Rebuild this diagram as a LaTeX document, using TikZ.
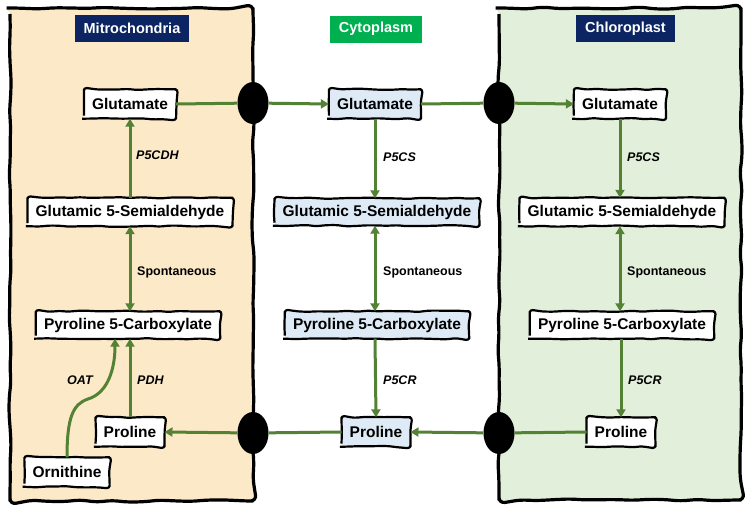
\documentclass[tikz,border=0pt]{standalone}
\usepackage{fontspec}
\setmainfont{Liberation Sans}
\usetikzlibrary{arrows.meta,shapes.geometric,decorations.pathmorphing}
\definecolor{peach}{HTML}{FBE9C8}
\definecolor{leaf}{HTML}{E2EFDA}
\definecolor{pale}{HTML}{DEEBF7}
\definecolor{navy}{HTML}{0C2461}
\definecolor{hdrgreen}{HTML}{00B050}
\definecolor{arrowgreen}{HTML}{548235}
\tikzset{
  compartment/.style={draw=black, line width=3.2pt, line join=round, rounded corners=6pt, decorate, decoration={random steps, segment length=16pt, amplitude=1.1pt}},
  mol/.style={fill=white, font=\bfseries\fontsize{15.5}{18}\selectfont, inner xsep=8pt, inner ysep=0pt, minimum height=29pt},
  molc/.style={mol, fill=pale},
  molborder/.style={draw=black, line width=2.2pt, line join=round, rounded corners=3pt, decorate, decoration={random steps, segment length=10pt, amplitude=0.7pt}},
  hdr/.style={text=white, font=\bfseries\fontsize{14.5}{17}\selectfont, minimum height=27pt, inner xsep=9pt, inner ysep=0pt},
  gate/.style={ellipse, fill=black, minimum width=31pt, minimum height=42pt, inner sep=0pt},
  lnk/.style={draw=arrowgreen, line width=3pt},
  arr/.style={lnk, -{Triangle[length=8pt,width=9pt]}},
  darr/.style={lnk, {Triangle[length=8pt,width=9pt]}-{Triangle[length=8pt,width=9pt]}},
  enz/.style={font=\bfseries\itshape\fontsize{12.5}{15}\selectfont, anchor=west, inner sep=0pt},
  lab/.style={font=\bfseries\fontsize{12.5}{15}\selectfont, anchor=west, inner sep=0pt}
}
\begin{document}
\begin{tikzpicture}[x=1pt,y=1pt]
\pgfmathsetseed{7}
\useasboundingbox (0,-509) rectangle (750,0);
% compartments
\path[compartment, fill=peach] (10,-8) rectangle (253,-501);
\path[compartment, fill=leaf] (499,-8) rectangle (741,-500);
% headers
\node[hdr, fill=navy] (hM) at (132,-28.5) {Mitrochondria};
\node[hdr, fill=hdrgreen] (hC) at (376,-29) {Cytoplasm};
\node[hdr, fill=navy] (hP) at (625.5,-28.5) {Chloroplast};
% mitochondria
\node[mol] (gL) at (130,-104) {Glutamate};
\node[mol, minimum height=28pt] (gsL) at (130,-212) {Glutamic 5-Semialdehyde};
\node[mol, minimum height=27pt] (pyL) at (128,-325) {Pyroline 5-Carboxylate};
\node[mol] (proL) at (130,-432) {Proline};
\node[mol] (orn) at (67,-472) {Ornithine};
% cytoplasm
\node[molc] (gM) at (375,-104) {Glutamate};
\node[molc, minimum height=27pt] (gsM) at (377,-212) {Glutamic 5-Semialdehyde};
\node[molc, minimum height=27pt] (pyM) at (377,-325) {Pyroline 5-Carboxylate};
\node[molc] (proM) at (376,-432) {Proline};
% chloroplast
\node[mol] (gR) at (620,-104) {Glutamate};
\node[mol, minimum height=28pt] (gsR) at (622,-212) {Glutamic 5-Semialdehyde};
\node[mol, minimum height=27pt] (pyR) at (622,-325) {Pyroline 5-Carboxylate};
\node[mol] (proR) at (621,-432) {Proline};
% hand-drawn borders of the molecule boxes
\foreach \n in {gL,gsL,pyL,proL,orn,gM,gsM,pyM,proM,gR,gsR,pyR,proR}
  \draw[molborder] (\n.south west) rectangle (\n.north east);
% gates
\node[gate] (eTL) at (253,-103) {};
\node[gate] (eTR) at (499,-103) {};
\node[gate] (eBL) at (253,-433) {};
\node[gate] (eBR) at (499,-433) {};
% transport
\draw[lnk] (gL.east) -- (eTL);
\draw[arr] (eTL) -- (gM.west);
\draw[lnk] (gM.east) -- (eTR);
\draw[arr] (eTR) -- (gR.west);
\draw[lnk] (proR.west) -- (eBR);
\draw[arr] (eBR) -- (proM.east);
\draw[lnk] (proM.west) -- (eBL);
\draw[arr] (eBL) -- (proL.east);
% mitochondria reactions
\draw[arr] (gsL.north) -- (gL.south);
\draw[darr] (gsL.south) -- ([xshift=2pt]pyL.north);
\draw[arr] (proL.north) -- ([xshift=2pt]pyL.south);
\draw[arr] (orn.north) .. controls +(0,40) and +(-15,-5) .. (88,-399) .. controls +(20,6) and +(0,-30) .. ([xshift=-13pt]pyL.south);
\node[enz] (l1) at (136,-155) {P5CDH};
\node[lab] (l2) at (137,-272) {Spontaneous};
\node[enz] (l3) at (137,-380) {PDH};
\node[enz] (l4) at (67,-380) {OAT};
% cytoplasm reactions
\draw[arr] (gM.south) -- ([xshift=-2pt]gsM.north);
\draw[darr] ([xshift=-2pt]gsM.south) -- ([xshift=-2pt]pyM.north);
\draw[arr] ([xshift=-2pt]pyM.south) -- (proM.north);
\node[enz] (m1) at (383,-157) {P5CS};
\node[lab] (m2) at (383,-272) {Spontaneous};
\node[enz] (m3) at (383,-380) {P5CR};
% chloroplast reactions
\draw[arr] (gR.south) -- ([xshift=-2pt]gsR.north);
\draw[darr] ([xshift=-2pt]gsR.south) -- ([xshift=-2pt]pyR.north);
\draw[arr] ([xshift=-1pt]pyR.south) -- (proR.north);
\node[enz] (r1) at (627,-157) {P5CS};
\node[lab] (r2) at (627,-272) {Spontaneous};
\node[enz] (r3) at (628,-380) {P5CR};
\end{tikzpicture}
\end{document}
